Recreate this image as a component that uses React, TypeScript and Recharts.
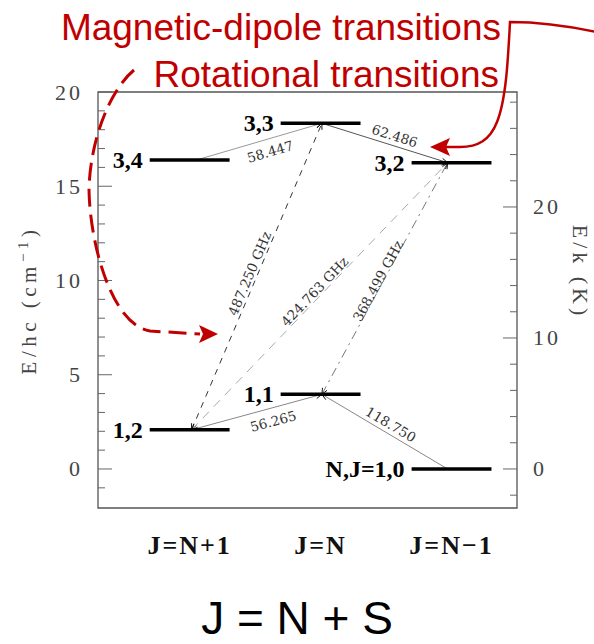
import React from 'react';
import { ComposedChart, XAxis, YAxis, ReferenceLine, ReferenceArea } from 'recharts';

// energy levels of O2 (N,J), energies in cm^-1
const columnTicks = [1, 2, 3];
const columnLabels = ['J=N+1', 'J=N', 'J=N\u22121'];

const levelNames = ['N,J=1,0', '1,2', '1,1', '3,4', '3,3', '3,2'];
const levelColumn = [3, 1, 2, 1, 2, 3];
const levelEnergy = [0, 2.08, 3.96, 16.39, 18.34, 16.25];
const levelAnchor = [2.97, 1.015, 2.01, 1.05, 2.01, 2.97];

// transitions (GHz)
const transitionFrom = ['3,4', '3,3', '1,2', '1,1', '1,2', '1,2', '1,1'];
const transitionTo = ['3,3', '3,2', '1,1', 'N,J=1,0', '3,3', '3,2', '3,2'];
const transitionLabels = ['58.447', '62.486', '56.265', '118.750', '487.250 GHz', '424.763 GHz', '368.499 GHz'];

const leftTicks = [-1, 0, 1, 2, 3, 4, 5, 6, 7, 8, 9, 10, 11, 12, 13, 14, 15, 16, 17, 18, 19, 20];
const rightTicks = [-2, 0, 2, 4, 6, 8, 10, 12, 14, 16, 18, 20, 22, 24, 26, 28];

const K_PER_CM = 1.4388;
const Y_MIN = -2.07;
const Y_MAX = 20;
const LEVEL_HALF = 0.305;

// drawing styles of the transitions
const transStroke = ['#999', '#555', '#888', '#888', '#333', '#aaa', '#777'];
const transDash = [undefined, undefined, undefined, undefined, '6 6', '9 7', '9 5 2 5'];
const transArrows = ['to', 'to', 'to', 'from', 'both', 'both', 'both'];
const labelT = [0.56, 0.556, 0.6, 0.51, 0.5, 0.5, 0.48];
const labelOffset = [-12.5, 10, -13, 9.5, 8, 7, 5];

const serif = '"Liberation Serif", "Times New Roman", serif';
const dvSerif = '"DejaVu Serif", serif';
const sans = '"Liberation Sans", Arial, sans-serif';
const RED = '#c00000';

const levelIndex = (name: string) => levelNames.indexOf(name);

const arrowHead = (x: number, y: number, ux: number, uy: number, key: string) => {
  // ux,uy point toward the tip
  const L = 6, W = 2.6;
  const bx = x - ux * L, by = y - uy * L;
  return (
    <polyline
      key={key}
      points={`${bx - uy * W},${by + ux * W} ${x},${y} ${bx + uy * W},${by - ux * W}`}
      fill="none"
      stroke="#111"
      strokeWidth={1}
    />
  );
};

const makeTransitionShape = (i: number) => (props: any) => {
  const { x1, y1, x2, y2 } = props;
  const dx = x2 - x1, dy = y2 - y1;
  const len = Math.hypot(dx, dy);
  const ux = dx / len, uy = dy / len;
  let nx = uy, ny = -ux;
  if (ny > 0) { nx = -nx; ny = -ny; }
  const t = labelT[i], off = labelOffset[i];
  const lx = x1 + dx * t + nx * off;
  const ly = y1 + dy * t + ny * off;
  let ang = (Math.atan2(dy, dx) * 180) / Math.PI;
  if (ang > 90) ang -= 180;
  if (ang < -90) ang += 180;
  const ends = transArrows[i];
  return (
    <g>
      <line x1={x1} y1={y1} x2={x2} y2={y2} stroke={transStroke[i]} strokeWidth={1} strokeDasharray={transDash[i]} />
      {(ends === 'to' || ends === 'both') && arrowHead(x2, y2, ux, uy, 'a2')}
      {(ends === 'from' || ends === 'both') && arrowHead(x1, y1, -ux, -uy, 'a1')}
      <text
        x={lx}
        y={ly}
        transform={`rotate(${ang} ${lx} ${ly})`}
        textAnchor="middle"
        dominantBaseline="central"
        fontFamily={dvSerif}
        fontSize={13.5}
        fill="#333"
      >
        {transitionLabels[i]}
      </text>
    </g>
  );
};

const makeLevelShape = (i: number) => (props: any) => {
  const { x1, y1, x2, y2 } = props;
  return (
    <g>
      <line x1={x1} y1={y1} x2={x2} y2={y2} stroke="#000" strokeWidth={3.5} />
      <text
        x={Math.min(x1, x2) - 7}
        y={y1}
        textAnchor="end"
        dominantBaseline="central"
        fontFamily={serif}
        fontWeight="bold"
        fontSize={24}
        fill="#000"
      >
        {levelNames[i]}
      </text>
    </g>
  );
};

const LeftTick = (props: any) => {
  const { x, y, payload } = props;
  const major = payload.value % 5 === 0;
  return (
    <g>
      <line x1={x} x2={x + (major ? 14 : 7)} y1={y} y2={y} stroke="#666" strokeWidth={1} />
      {major && (
        <text x={x - 15} y={y} textAnchor="end" dominantBaseline="central" fontFamily={serif} fontSize={22} letterSpacing={3} fill="#444">
          {payload.value}
        </text>
      )}
    </g>
  );
};

const RightTick = (props: any) => {
  const { x, y, payload } = props;
  const major = payload.value % 10 === 0;
  return (
    <g>
      <line x1={x} x2={x - (major ? 14 : 7)} y1={y} y2={y} stroke="#666" strokeWidth={1} />
      {major && (
        <text x={x + 16} y={y} textAnchor="start" dominantBaseline="central" fontFamily={serif} fontSize={22} letterSpacing={3} fill="#444">
          {payload.value}
        </text>
      )}
    </g>
  );
};

const BottomTick = (props: any) => {
  const { x, y, payload } = props;
  const label = columnLabels[columnTicks.indexOf(payload.value)];
  return (
    <text x={x} y={y + 46} textAnchor="middle" fontFamily={serif} fontWeight="bold" fontSize={26} letterSpacing={2} fill="#111">
      {label}
    </text>
  );
};

const LeftTitle = (props: any) => {
  const vb = props.viewBox;
  const cx = vb.x + 36;
  const cy = vb.y + vb.height / 2;
  return (
    <text
      x={cx}
      y={cy}
      transform={`rotate(-90 ${cx} ${cy})`}
      textAnchor="middle"
      fontFamily={serif}
      fontSize={21}
      letterSpacing={4.5}
      fill="#444"
    >
      E/hc (cm
      <tspan dy={-8} fontSize={15}>{'\u22121'}</tspan>
      <tspan dy={8}>)</tspan>
    </text>
  );
};

const RightTitle = (props: any) => {
  const vb = props.viewBox;
  const cx = vb.x + 56;
  const cy = vb.y + vb.height / 2 - 28;
  return (
    <text
      x={cx}
      y={cy}
      transform={`rotate(90 ${cx} ${cy})`}
      textAnchor="middle"
      fontFamily={serif}
      fontSize={22}
      letterSpacing={4}
      fill="#444"
    >
      E/k (K)
    </text>
  );
};

export default function App() {
  const rows = levelNames.map((name, i) => ({ name, x: levelColumn[i], e: levelEnergy[i] }));

  return (
    <div style={{ position: 'absolute', left: 0, top: 0, width: 594, height: 644, background: '#fff' }}>
      <ComposedChart width={594} height={644} data={rows} margin={{ top: 92, right: 0, bottom: 0, left: 0 }}>
        <XAxis
          dataKey="x"
          type="number"
          domain={[0.3, 3.5]}
          ticks={columnTicks}
          allowDataOverflow
          axisLine={false}
          tickLine={false}
          tickSize={0}
          tickMargin={0}
          height={136}
          interval={0}
          tick={<BottomTick />}
        />
        <YAxis
          yAxisId="cm"
          type="number"
          domain={[Y_MIN, Y_MAX]}
          ticks={leftTicks}
          allowDataOverflow
          width={98}
          axisLine={false}
          tickLine={false}
          tickSize={0}
          tickMargin={0}
          interval={0}
          tick={<LeftTick />}
          label={{ content: (p: any) => <LeftTitle {...p} /> }}
        />
        <YAxis
          yAxisId="K"
          orientation="right"
          type="number"
          domain={[Y_MIN * K_PER_CM, Y_MAX * K_PER_CM]}
          ticks={rightTicks}
          allowDataOverflow
          width={77}
          axisLine={false}
          tickLine={false}
          tickSize={0}
          tickMargin={0}
          interval={0}
          tick={<RightTick />}
          label={{ content: (p: any) => <RightTitle {...p} /> }}
        />
        <ReferenceArea
          yAxisId="cm"
          x1={0.3}
          x2={3.5}
          y1={Y_MIN}
          y2={Y_MAX}
          fill="none"
          fillOpacity={0}
          stroke="#555"
          strokeWidth={1.3}
          ifOverflow="visible"
        />
        {transitionFrom.map((from, i) => {
          const a = levelIndex(from);
          const b = levelIndex(transitionTo[i]);
          return (
            <ReferenceLine
              key={`t${i}`}
              yAxisId="cm"
              ifOverflow="visible"
              segment={[
                { x: levelAnchor[a], y: levelEnergy[a] },
                { x: levelAnchor[b], y: levelEnergy[b] },
              ]}
              shape={makeTransitionShape(i)}
            />
          );
        })}
        {levelNames.map((name, i) => (
          <ReferenceLine
            key={`l${name}`}
            yAxisId="cm"
            ifOverflow="visible"
            segment={[
              { x: levelColumn[i] - LEVEL_HALF, y: levelEnergy[i] },
              { x: levelColumn[i] + LEVEL_HALF, y: levelEnergy[i] },
            ]}
            shape={makeLevelShape(i)}
          />
        ))}
      </ComposedChart>

      <svg width={594} height={644} style={{ position: 'absolute', left: 0, top: 0, pointerEvents: 'none' }}>
        <text x={501} y={40} textAnchor="end" fontFamily={sans} fontSize={37} fill={RED}>
          Magnetic-dipole transitions
        </text>
        <text x={499} y={87} textAnchor="end" fontFamily={sans} fontSize={37} fill={RED}>
          Rotational transitions
        </text>
        <path
          d="M 596 32 Q 550 22 510 22 C 508 60 506 100 497 122 C 490 140 478 147 460 147 L 446 147"
          fill="none"
          stroke={RED}
          strokeWidth={2.5}
        />
        <polygon points="430,147 450,138 446,147 450,156" fill={RED} />
        <path
          d="M 134 70 C 110 90 90 140 89 190 C 90 245 112 325 150 331 L 200 334"
          fill="none"
          stroke={RED}
          strokeWidth={3}
          strokeDasharray="18 8"
        />
        <polygon points="218,334 199,325 203,334 199,343" fill={RED} />
        <text x={297} y={634} textAnchor="middle" fontFamily={sans} fontSize={46} fill="#000">
          J = N + S
        </text>
      </svg>
    </div>
  );
}
